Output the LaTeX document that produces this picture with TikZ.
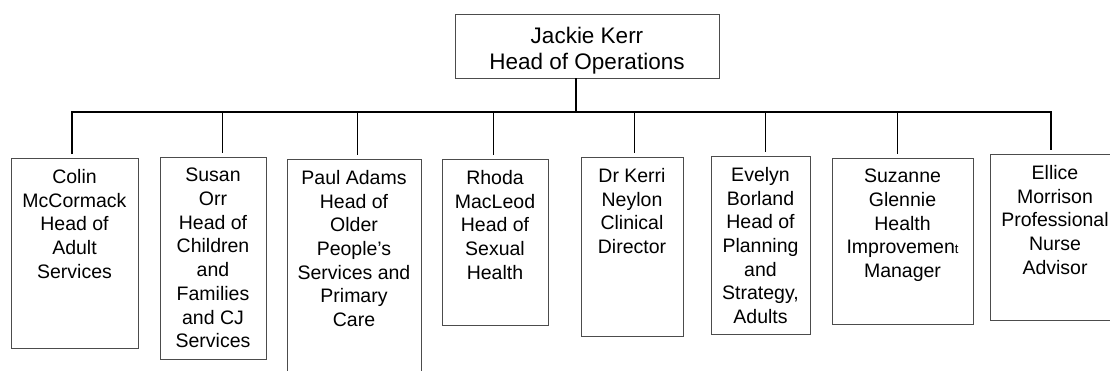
\documentclass[tikz,border=0pt]{standalone}
\usepackage{fontspec}
\setmainfont{Liberation Sans}
\begin{document}
\begin{tikzpicture}[x=1pt,y=-1pt,
  unit/.style={draw=black!70, line width=0.9pt, anchor=north west, inner sep=0pt, outer sep=0pt},
  lbl/.style={anchor=north, inner sep=0pt, align=center, font=\fontsize{19.5}{23.7}\selectfont},
  headlbl/.style={anchor=north, inner sep=0pt, align=center, font=\fontsize{22.5}{26.5}\selectfont},
  thicklink/.style={line width=1.8pt, draw=black},
  thinlink/.style={line width=1pt, draw=black}]
\path[use as bounding box, clip] (0,0) rectangle (1110,370);
\fill[white] (0,0) rectangle (1110,370);
% head
\node[unit, minimum width=264pt, minimum height=64pt] (top) at (455,14) {};
\node[headlbl] (tt) at ([yshift=-12.5pt]top.north) {Jackie Kerr\\Head of Operations};
% boxes
\node[unit, minimum width=127pt, minimum height=190pt] (b1) at (11,158) {};
\node[unit, minimum width=106pt, minimum height=202pt] (b2) at (160,157) {};
\node[unit, minimum width=134pt, minimum height=230pt] (b3) at (287,159) {};
\node[unit, minimum width=106pt, minimum height=166pt] (b4) at (442,159) {};
\node[unit, minimum width=102pt, minimum height=179pt] (b5) at (581,157) {};
\node[unit, minimum width=99pt, minimum height=178pt] (b6) at (711,156) {};
\node[unit, minimum width=141pt, minimum height=166pt] (b7) at (832,158) {};
\node[unit, minimum width=130pt, minimum height=166pt] (b8) at (990,154) {};
% texts
\node[lbl] (t1) at ([yshift=-11pt]b1.north) {Colin\\McCormack\\Head of\\Adult\\Services};
\node[lbl] (t2) at ([yshift=-11pt]b2.north) {Susan\\Orr\\Head of\\Children\\and\\Families\\and CJ\\Services};
\node[lbl] (t3) at ([yshift=-11pt]b3.north) {Paul Adams\\Head of\\Older\\People’s\\Services and\\Primary\\Care};
\node[lbl] (t4) at ([yshift=-11pt]b4.north) {Rhoda\\MacLeod\\Head of\\Sexual\\Health};
\node[lbl] (t5) at ([yshift=-11pt]b5.north) {Dr Kerri\\Neylon\\Clinical\\Director};
\node[lbl] (t6) at ([yshift=-11pt]b6.north) {Evelyn\\Borland\\Head of\\Planning\\and\\Strategy,\\Adults};
\node[lbl] (t7) at ([yshift=-11pt]b7.north) {Suzanne\\Glennie\\Health\\Improvemen{\fontsize{13}{23.7}\selectfont t}\\Manager};
\node[lbl] (t8) at ([yshift=-11pt]b8.north) {Ellice\\Morrison\\Professional\\Nurse\\Advisor};
% connectors
\coordinate (hub) at (576,112);
\coordinate (L) at (72,112);
\coordinate (R) at (1051,112);
\coordinate (c2) at (222,112);
\coordinate (c3) at (357,112);
\coordinate (c4) at (493,112);
\coordinate (c5) at (634,112);
\coordinate (c6) at (765,112);
\coordinate (c7) at (897,112);
\draw[thicklink] (top.south -| hub) -- (hub);
\draw[thicklink] ([yshift=4pt]b1.north -| L) -- (L) -- (R) -- ([yshift=4pt]b8.north -| R);
\draw[thinlink] (c2) -- ([yshift=4pt]b2.north -| c2);
\draw[thinlink] (c3) -- ([yshift=4pt]b3.north -| c3);
\draw[thinlink] (c4) -- ([yshift=4pt]b4.north -| c4);
\draw[thinlink] (c5) -- ([yshift=4pt]b5.north -| c5);
\draw[thinlink] (c6) -- ([yshift=4pt]b6.north -| c6);
\draw[thinlink] (c7) -- ([yshift=4pt]b7.north -| c7);
\end{tikzpicture}
\end{document}
